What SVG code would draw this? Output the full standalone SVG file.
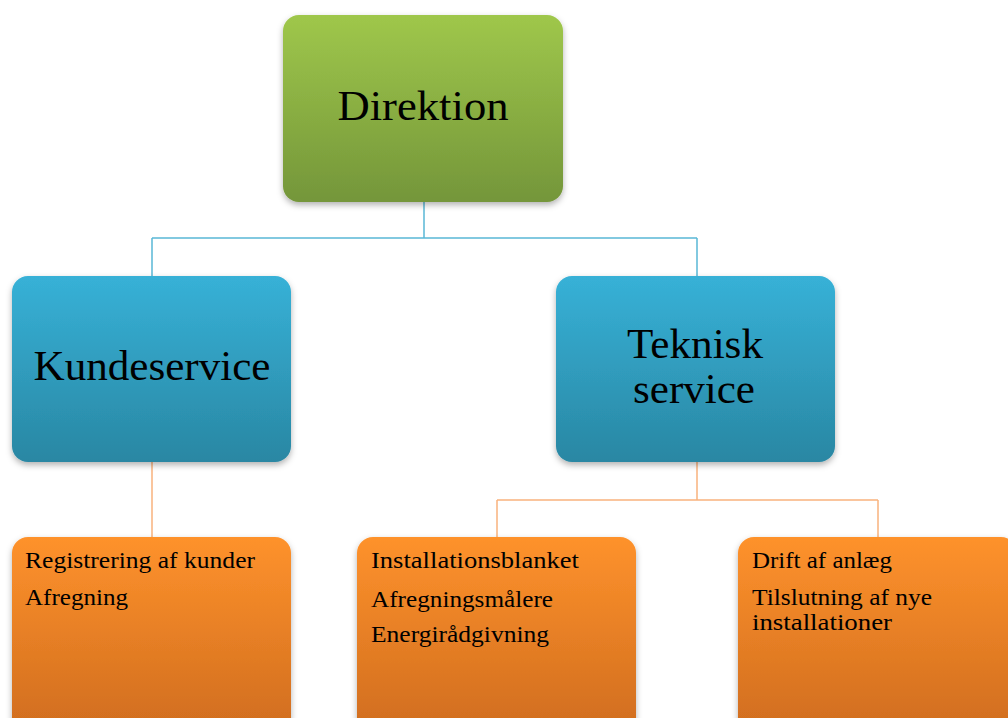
<svg xmlns="http://www.w3.org/2000/svg" width="1008" height="718" viewBox="0 0 1008 718">
<defs>
<linearGradient id="gG" x1="0" y1="0" x2="0" y2="1"><stop offset="0" stop-color="#9fc74b"/><stop offset="1" stop-color="#74963a"/></linearGradient>
<linearGradient id="gB" x1="0" y1="0" x2="0" y2="1"><stop offset="0" stop-color="#37b1d7"/><stop offset="1" stop-color="#2987a3"/></linearGradient>
<linearGradient id="gO" x1="0" y1="0" x2="0" y2="1"><stop offset="0" stop-color="#fe922c"/><stop offset="1" stop-color="#cf6c1e"/></linearGradient>
<filter id="sh" x="-10%" y="-10%" width="120%" height="125%"><feDropShadow dx="0" dy="3" stdDeviation="3" flood-color="#000" flood-opacity="0.3"/></filter>
</defs>
<style>
.big{font-family:"Liberation Serif","DejaVu Serif",serif;font-size:42px;fill:#000;text-anchor:middle}
.sm{font-family:"Liberation Serif","DejaVu Serif",serif;font-size:23px;fill:#000}
.cb{fill:none;stroke:#5ab8d6;stroke-width:1.5}
.co{fill:none;stroke:#f9b27d;stroke-width:1.5}
</style>
<rect width="1008" height="718" fill="#fff"/>
<g id="connectors">
<path class="cb" d="M424 202V238M152 238H697M152 238V276M697 238V276"/>
<path class="co" d="M152 462V537M697 462V500M497 500H878M497 500V537M878 500V537"/>
</g>
<g id="direktion">
<rect x="283" y="15" width="280" height="187" rx="16" fill="url(#gG)" filter="url(#sh)"/>
<text class="big" x="423" y="120" textLength="171" lengthAdjust="spacingAndGlyphs">Direktion</text>
</g>
<g id="kundeservice">
<rect x="12" y="276" width="279" height="186" rx="16" fill="url(#gB)" filter="url(#sh)"/>
<text class="big" x="152" y="380" textLength="237" lengthAdjust="spacingAndGlyphs">Kundeservice</text>
</g>
<g id="teknisk">
<rect x="556" y="276" width="279" height="186" rx="16" fill="url(#gB)" filter="url(#sh)"/>
<text class="big" x="695" y="358" textLength="136" lengthAdjust="spacingAndGlyphs">Teknisk</text>
<text class="big" x="694" y="403" textLength="122" lengthAdjust="spacingAndGlyphs">service</text>
</g>
<g id="kunder-opgaver">
<rect x="12" y="537" width="279" height="200" rx="16" fill="url(#gO)" filter="url(#sh)"/>
<text class="sm" x="25" y="568" textLength="230" lengthAdjust="spacingAndGlyphs">Registrering af kunder</text>
<text class="sm" x="25" y="605" textLength="103" lengthAdjust="spacingAndGlyphs">Afregning</text>
</g>
<g id="teknisk-opgaver-1">
<rect x="357" y="537" width="279" height="200" rx="16" fill="url(#gO)" filter="url(#sh)"/>
<text class="sm" x="371" y="568" textLength="208" lengthAdjust="spacingAndGlyphs">Installationsblanket</text>
<text class="sm" x="371" y="607" textLength="182" lengthAdjust="spacingAndGlyphs">Afregningsmålere</text>
<text class="sm" x="371" y="642" textLength="178" lengthAdjust="spacingAndGlyphs">Energirådgivning</text>
</g>
<g id="teknisk-opgaver-2">
<rect x="738" y="537" width="279" height="200" rx="16" fill="url(#gO)" filter="url(#sh)"/>
<text class="sm" x="752" y="568" textLength="140" lengthAdjust="spacingAndGlyphs">Drift af anlæg</text>
<text class="sm" x="752" y="605" textLength="180" lengthAdjust="spacingAndGlyphs">Tilslutning af nye</text>
<text class="sm" x="752" y="630" textLength="140" lengthAdjust="spacingAndGlyphs">installationer</text>
</g>
</svg>
